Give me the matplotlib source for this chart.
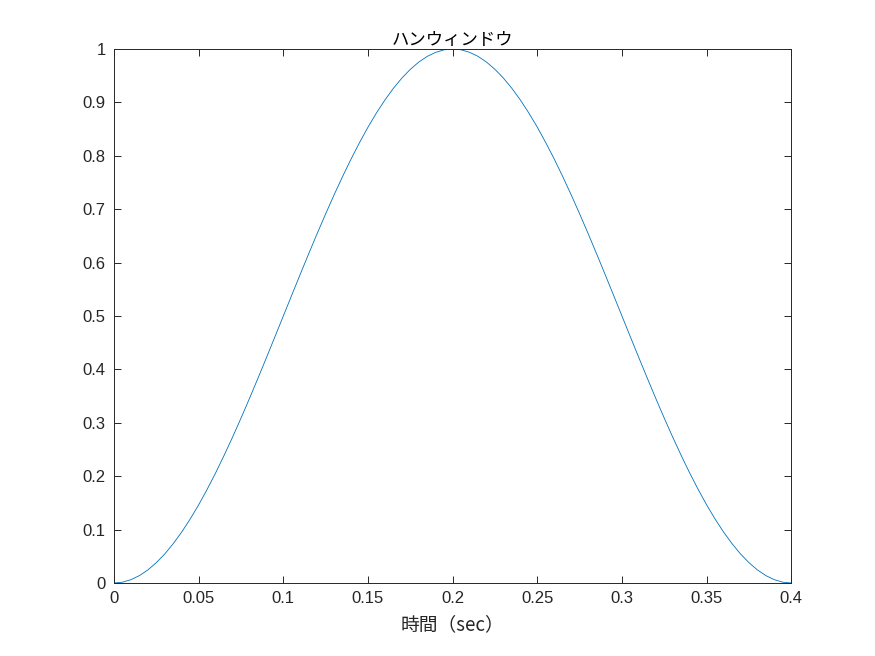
import matplotlib
matplotlib.use("Agg")
import matplotlib.pyplot as plt

plt.rcParams['font.family'] = ['Noto Sans CJK JP', 'DejaVu Sans']

times = [0.000, 0.005, 0.010, 0.015, 0.020, 0.025, 0.030, 0.035, 0.040, 0.045,
         0.050, 0.055, 0.060, 0.065, 0.070, 0.075, 0.080, 0.085, 0.090, 0.095,
         0.100, 0.105, 0.110, 0.115, 0.120, 0.125, 0.130, 0.135, 0.140, 0.145,
         0.150, 0.155, 0.160, 0.165, 0.170, 0.175, 0.180, 0.185, 0.190, 0.195,
         0.200, 0.205, 0.210, 0.215, 0.220, 0.225, 0.230, 0.235, 0.240, 0.245,
         0.250, 0.255, 0.260, 0.265, 0.270, 0.275, 0.280, 0.285, 0.290, 0.295,
         0.300, 0.305, 0.310, 0.315, 0.320, 0.325, 0.330, 0.335, 0.340, 0.345,
         0.350, 0.355, 0.360, 0.365, 0.370, 0.375, 0.380, 0.385, 0.390, 0.395,
         0.400]
window = [0.0000, 0.0015, 0.0062, 0.0138, 0.0245, 0.0381, 0.0545, 0.0737, 0.0955, 0.1198,
          0.1464, 0.1753, 0.2061, 0.2388, 0.2730, 0.3087, 0.3455, 0.3833, 0.4218, 0.4608,
          0.5000, 0.5392, 0.5782, 0.6167, 0.6545, 0.6913, 0.7270, 0.7612, 0.7939, 0.8247,
          0.8536, 0.8802, 0.9045, 0.9263, 0.9455, 0.9619, 0.9755, 0.9862, 0.9938, 0.9985,
          1.0000, 0.9985, 0.9938, 0.9862, 0.9755, 0.9619, 0.9455, 0.9263, 0.9045, 0.8802,
          0.8536, 0.8247, 0.7939, 0.7612, 0.7270, 0.6913, 0.6545, 0.6167, 0.5782, 0.5392,
          0.5000, 0.4608, 0.4218, 0.3833, 0.3455, 0.3087, 0.2730, 0.2388, 0.2061, 0.1753,
          0.1464, 0.1198, 0.0955, 0.0737, 0.0545, 0.0381, 0.0245, 0.0138, 0.0062, 0.0015,
          0.0000]

xticks = [0, 0.05, 0.1, 0.15, 0.2, 0.25, 0.3, 0.35, 0.4]
xtick_labels = ['0', '0.05', '0.1', '0.15', '0.2', '0.25', '0.3', '0.35', '0.4']
yticks = [0, 0.1, 0.2, 0.3, 0.4, 0.5, 0.6, 0.7, 0.8, 0.9, 1.0]
ytick_labels = ['0', '0.1', '0.2', '0.3', '0.4', '0.5', '0.6', '0.7', '0.8', '0.9', '1']

title = 'ハンウィンドウ'
xlabel = '時間（sec）'

fig = plt.figure(figsize=(8.75, 6.56), dpi=100)
ax = fig.add_axes([0.1303, 0.1113, 0.774, 0.814])
ax.plot(times, window, color='#0072BD', linewidth=0.6)

ax.set_xlim(0, 0.4)
ax.set_ylim(0, 1)
ax.set_xticks(xticks)
ax.set_yticks(yticks)
tick_font = dict(family=['Liberation Sans', 'DejaVu Sans'], size=12)
ax.set_xticklabels(xtick_labels, **tick_font)
ax.set_yticklabels(ytick_labels, **tick_font)

axcol = '#262626'
for s in ax.spines.values():
    s.set_color(axcol)
    s.set_linewidth(0.7)
ax.tick_params(direction='in', length=4.9, width=0.7, colors=axcol,
               top=True, right=True, pad=6)

ax.set_title(title, fontsize=12.5, color='black', pad=3)
ax.set_xlabel(xlabel, fontsize=13.5, color=axcol, labelpad=6)

fig.savefig('out.png', dpi=100)
